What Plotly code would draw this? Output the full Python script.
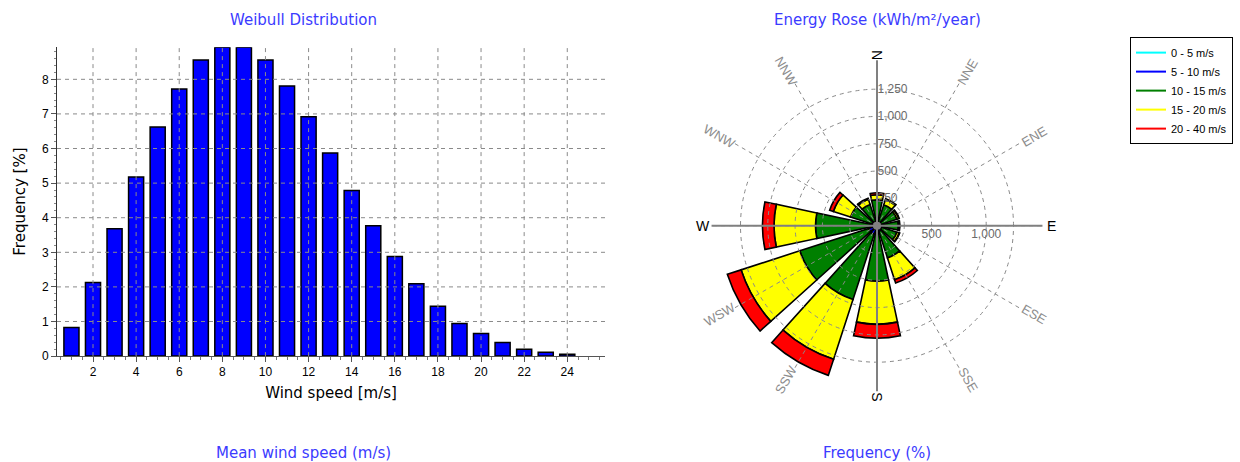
import math
import plotly.graph_objects as go

# ---------------- data ----------------
speed_bins = list(range(1, 25))
weibull_freq = [0.83, 2.13, 3.68, 5.18, 6.62, 7.72, 8.56, 8.93, 8.93, 8.56, 7.81, 6.92,
                5.87, 4.79, 3.77, 2.88, 2.09, 1.44, 0.94, 0.65, 0.39, 0.20, 0.11, 0.05]
x_ticks = list(range(2, 25, 2))
y_ticks = list(range(0, 9))

dir_names = ["N", "NNE", "ENE", "E", "ESE", "SSE", "S", "SSW", "WSW", "W", "WNW", "NNW"]
dir_deg = [0, 30, 60, 90, 120, 150, 180, 210, 240, 270, 300, 330]

energy_0_5 = [4, 4, 4, 5, 5, 6, 8, 9, 9, 8, 6, 4]
energy_5_10 = [32, 32, 32, 35, 40, 49, 62, 73, 71, 56, 44, 36]
energy_10_15 = [201, 165, 156, 156, 147, 255, 438, 629, 663, 499, 205, 165]
energy_15_20 = [46, 50, 18, 9, 22, 210, 395, 575, 566, 380, 165, 50]
energy_20_40 = [18, 9, 4, 5, 5, 32, 128, 155, 132, 106, 36, 10]

bin_labels = ["0 - 5 m/s", "5 - 10 m/s", "10 - 15 m/s", "15 - 20 m/s", "20 - 40 m/s"]
bin_colors = ["#00FFFF", "#0000FF", "#007F00", "#FFFF00", "#FF0000"]

rose_rings = [250, 500, 750, 1000, 1250]
rose_east_ticks = [500, 1000]
cardinal_deg = [0, 90, 180, 270]
rose_rmax = 1515

# ---------------- layout geometry (reference pixel space) ----------------
W, H = 1240, 462
HV = 453.6  # effective vertical extent of the photographed page
FONT = "Liberation Sans, Arial, sans-serif"
TFONT = "DejaVu Sans, sans-serif"
TITLE_BLUE = "#3b3bff"
GRID = "#8a8a8a"


def fy(py):
    return 1 - py / HV


bar_x_dom = [57 / W, 605 / W]
bar_y_dom = [fy(355), fy(47)]

cx_px, cy_px, R_px = 877, 225, 166
pol_x_dom = [(cx_px - R_px) / W, (cx_px + R_px) / W]
half_h = (R_px + 2) / H
pol_y_dom = [fy(cy_px) - half_h, fy(cy_px) + half_h]

fig = go.Figure()

# ---------------- Weibull bars ----------------
fig.add_trace(go.Bar(
    x=speed_bins, y=weibull_freq, width=0.7,
    marker=dict(color="#0000FF", line=dict(color="#000000", width=1.5)),
    showlegend=False, xaxis="x", yaxis="y",
))

# ---------------- energy rose ----------------
series = [energy_0_5, energy_5_10, energy_10_15, energy_15_20, energy_20_40]
for vals, name, col in zip(series, bin_labels, bin_colors):
    fig.add_trace(go.Barpolar(
        r=vals, theta=dir_deg, width=[24] * len(dir_deg), name=name,
        marker=dict(color=col, line=dict(color="#000000", width=1.6)),
        showlegend=False, subplot="polar",
    ))

# legend entries (line symbols)
for name, col in zip(bin_labels, bin_colors):
    fig.add_trace(go.Scatter(
        x=[None], y=[None], mode="lines", name=name,
        line=dict(color=col, width=2), xaxis="x", yaxis="y",
    ))

# placeholder traces for overlay polar subplots
fig.add_trace(go.Scatterpolar(r=[None], theta=[None], subplot="polar2", showlegend=False))
fig.add_trace(go.Scatterpolar(r=[0], theta=[0], mode="markers", subplot="polar3",
                              marker=dict(color="#808080", size=8), showlegend=False))

# grid over bars (shapes above traces)
shapes = []
for xv in x_ticks:
    shapes.append(dict(type="line", xref="x", yref="y domain", x0=xv, x1=xv, y0=0, y1=1,
                       line=dict(color=GRID, width=1, dash="4px,4px"), layer="above"))
for yv in y_ticks[1:]:
    shapes.append(dict(type="line", xref="x domain", yref="y", x0=0, x1=1, y0=yv, y1=yv,
                       line=dict(color=GRID, width=1, dash="4px,4px"), layer="above"))

common_ang = dict(rotation=90, direction="clockwise", showline=False, showticklabels=False,
                  ticks="")

# direction labels as rotated annotations
annotations = []
for name, deg in zip(dir_names, dir_deg):
    cardinal = deg in cardinal_deg
    rr = R_px * (1.05 if cardinal else 1.095)
    a = math.radians(deg)
    px = cx_px + rr * math.sin(a)
    py = cy_px - rr * 0.975 * math.cos(a)
    ang = deg - 90 if deg <= 180 else deg - 270
    annotations.append(dict(
        x=px / W, y=fy(py), xref="paper", yref="paper", text=name, showarrow=False,
        textangle=ang, xanchor="center", yanchor="middle",
        font=dict(family=FONT, size=14 if cardinal else 13,
                  color="#000000" if cardinal else "#8c8c8c"),
    ))

for txt, xp, yp in [("Weibull Distribution", 303, 20),
                    ("Energy Rose (kWh/m²/year)", 877, 20),
                    ("Mean wind speed (m/s)", 303, 452),
                    ("Frequency (%)", 877, 452)]:
    annotations.append(dict(x=xp / W, y=fy(yp), xref="paper", yref="paper", text=txt,
                            showarrow=False, xanchor="center", yanchor="middle",
                            font=dict(family=TFONT, size=15, color=TITLE_BLUE)))

fig.update_layout(
    width=W, height=H, margin=dict(l=0, r=0, t=0, b=0),
    paper_bgcolor="white", plot_bgcolor="white",
    font=dict(family=FONT, size=12, color="#000000"),
    xaxis=dict(domain=bar_x_dom, range=[0.33, 25.75], tickvals=x_ticks, anchor="y",
               showgrid=False, zeroline=False, showline=True, linecolor="#555555",
               ticks="outside", ticklen=5, tickcolor="#555555",
               minor=dict(dtick=0.5, ticks="outside", ticklen=3, tickcolor="#777777", showgrid=False),
               tickfont=dict(size=12),
               title=dict(text="Wind speed [m/s]", font=dict(family=TFONT, size=15), standoff=9)),
    yaxis=dict(domain=bar_y_dom, range=[0, 8.93], tickvals=y_ticks, anchor="x",
               showgrid=False, zeroline=False, showline=True, linecolor="#333333",
               ticks="outside", ticklen=5, tickcolor="#555555",
               minor=dict(dtick=0.2, ticks="outside", ticklen=2, tickcolor="#888888", showgrid=False),
               tickfont=dict(size=12),
               title=dict(text="Frequency [%]", font=dict(family=TFONT, size=15), standoff=12)),
    polar=dict(
        domain=dict(x=pol_x_dom, y=pol_y_dom), bgcolor="rgba(0,0,0,0)", barmode="stack",
        radialaxis=dict(range=[0, rose_rmax], visible=False),
        angularaxis=dict(**common_ang, visible=False),
    ),
    polar2=dict(
        domain=dict(x=pol_x_dom, y=pol_y_dom), bgcolor="rgba(0,0,0,0)",
        radialaxis=dict(range=[0, rose_rmax], angle=90, side="clockwise", tickvals=rose_rings,
                        tickformat=",", showline=False, ticks="", tickangle=90,
                        showgrid=True, gridcolor=GRID, griddash="4px,4px", gridwidth=1,
                        tickfont=dict(size=12, color="#6a6a6a")),
        angularaxis=dict(**common_ang, tickvals=dir_deg, showgrid=True, gridcolor=GRID,
                         griddash="4px,4px", gridwidth=1),
    ),
    polar3=dict(
        domain=dict(x=pol_x_dom, y=pol_y_dom), bgcolor="rgba(0,0,0,0)",
        radialaxis=dict(range=[0, rose_rmax], angle=0, side="clockwise", tickvals=rose_east_ticks,
                        tickformat=",", showline=False, ticks="", showgrid=False,
                        tickfont=dict(size=12, color="#6a6a6a")),
        angularaxis=dict(**common_ang, tickvals=cardinal_deg, showgrid=True, gridcolor="#808080",
                         gridwidth=1.5),
    ),
    legend=dict(x=1130 / W, y=fy(37), xanchor="left", yanchor="top",
                bordercolor="#000000", borderwidth=1, bgcolor="white",
                font=dict(size=11, color="#000000"), itemwidth=30),
    shapes=shapes,
    annotations=annotations,
)

fig.write_html(
    "out.html",
    config={"displayModeBar": False},
    post_script="document.body.style.margin='0px';document.body.style.padding='0px';",
)
